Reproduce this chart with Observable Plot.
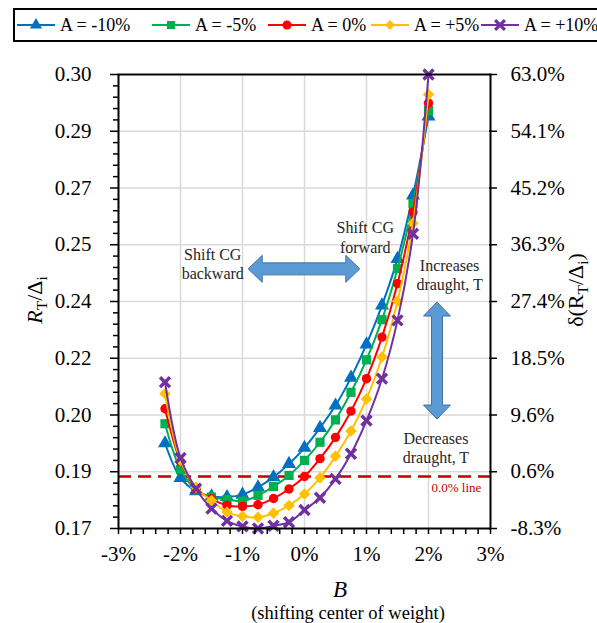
<!DOCTYPE html>
<html><head><meta charset="utf-8">
<script src="https://cdn.jsdelivr.net/npm/d3@7"></script>
<script src="https://cdn.jsdelivr.net/npm/@observablehq/plot@0.6"></script>
<style>
body{margin:0;background:#fff;}
#wrap{width:597px;height:623px;position:relative;overflow:hidden;background:#fff;}
#wrap svg{display:block;}
</style></head><body><div id="wrap"></div>
<script>
// ---------- data ----------
const B = [-2.25,-2,-1.75,-1.5,-1.25,-1,-0.75,-0.5,-0.25,0,0.25,0.5,0.75,1,1.25,1.5,1.75,2];
const seriesNames = ["A = -10%","A = -5%","A = 0%","A = +5%","A = +10%"];
const aMinus10 = [0.1944,0.1845,0.1807,0.1792,0.1790,0.1797,0.1818,0.1847,0.1885,0.1931,0.1988,0.2052,0.2132,0.2227,0.2339,0.2472,0.2654,0.2880];
const aMinus5  = [0.2000,0.1869,0.1811,0.1790,0.1783,0.1778,0.1795,0.1820,0.1852,0.1895,0.1947,0.2011,0.2090,0.2183,0.2298,0.2444,0.2630,0.2897];
const aZero    = [0.2043,0.1892,0.1814,0.1785,0.1766,0.1763,0.1768,0.1786,0.1813,0.1849,0.1900,0.1961,0.2036,0.2129,0.2248,0.2401,0.2606,0.2918];
const aPlus5   = [0.2086,0.1895,0.1818,0.1780,0.1747,0.1735,0.1732,0.1744,0.1766,0.1799,0.1845,0.1907,0.1979,0.2071,0.2191,0.2351,0.2574,0.2943];
const aPlus10  = [0.2119,0.1902,0.1814,0.1757,0.1722,0.1706,0.1700,0.1708,0.1718,0.1753,0.1788,0.1842,0.1914,0.2009,0.2129,0.2296,0.2544,0.3000];
const seriesValues = [aMinus10, aMinus5, aZero, aPlus5, aPlus10];
const zeroLine = 0.1849;

const xTicks = [-3,-2,-1,0,1,2,3];
const xLabels = ["-3%","-2%","-1%","0%","1%","2%","3%"];
const yTicks = [0.17,0.18625,0.2025,0.21875,0.235,0.25125,0.2675,0.28375,0.30];
const leftLabels = ["0.17","0.19","0.20","0.22","0.24","0.25","0.27","0.29","0.30"];
const rightLabels = ["-8.3%","0.6%","9.6%","18.5%","27.4%","36.3%","45.2%","54.1%","63.0%"];

// ---------- styles ----------
const FONT = '"Liberation Serif","Times New Roman",serif';
const colors = ["#0070C0","#00B050","#FF0000","#FFC000","#7030A0"];
const symbols = ["triangle","square","circle","diamond2","times"];

const rows = [];
seriesValues.forEach((vals, s) => vals.forEach((v, i) => rows.push({B: B[i], v, s: seriesNames[s]})));

const yMinor = [];
for (let i = 0; i < yTicks.length - 1; i++) for (let j = 1; j < 5; j++) yMinor.push(yTicks[i] + (yTicks[i+1]-yTicks[i]) * j / 5);
const xMinor = d3.range(-30, 31, 2).map(d => d / 10);

const wrap = document.getElementById("wrap");

// ---------- legend ----------
const leg = d3.select(wrap).append("svg").attr("width", 597).attr("height", 45);
leg.append("rect").attr("x", 14).attr("y", 9).attr("width", 600).attr("height", 32)
  .attr("fill", "white").attr("stroke", "black").attr("stroke-width", 2);
const legX = [17, 152, 268, 371, 481];
const d3sym = [d3.symbolTriangle, d3.symbolSquare, d3.symbolCircle, d3.symbolDiamond2 || d3.symbolSquare, d3.symbolTimes || d3.symbolCross];
seriesNames.forEach((name, s) => {
  const g = leg.append("g").attr("transform", `translate(${legX[s]},25)`);
  g.append("line").attr("x1", 0).attr("x2", 38).attr("stroke", colors[s]).attr("stroke-width", 2);
  const p = g.append("path").attr("d", d3.symbol(d3sym[s], 64)()).attr("transform", "translate(19,0)" + (s === 3 && !d3.symbolDiamond2 ? " rotate(45)" : ""));
  if (s === 4) p.attr("fill", "none").attr("stroke", colors[s]).attr("stroke-width", 3.2);
  else p.attr("fill", colors[s]);
  g.append("text").attr("x", 43).attr("y", 0).attr("dy", "0.33em").attr("font-family", FONT)
    .attr("font-size", 18).attr("fill", "black").text(name);
});

// ---------- plot ----------
const seriesMarks = [];
seriesNames.forEach((name, s) => {
  const data = rows.filter(r => r.s === name);
  seriesMarks.push(Plot.line(data, {x: "B", y: "v", stroke: colors[s], strokeWidth: 2, curve: "catmull-rom"}));
  if (symbols[s] === "times")
    seriesMarks.push(Plot.dot(data, {x: "B", y: "v", symbol: "times", r: 4.6, stroke: colors[s], strokeWidth: 3.4, fill: "none"}));
  else
    seriesMarks.push(Plot.dot(data, {x: "B", y: "v", symbol: symbols[s], r: symbols[s] === "circle" ? 4.7 : 5.2, fill: colors[s], stroke: "none"}));
});

const plot = Plot.plot({
  width: 597, height: 578,
  marginTop: 29, marginBottom: 95, marginLeft: 118, marginRight: 107,
  x: {domain: [-3, 3]},
  y: {domain: [0.17, 0.30]},
  style: {fontFamily: FONT, fontSize: "21px", background: "white", color: "black", overflow: "visible"},
  marks: [
    Plot.gridX({ticks: [-2,-1,0,1,2], stroke: "#d9d9d9", strokeOpacity: 1, strokeWidth: 1.5}),
    Plot.gridY({ticks: yTicks.slice(1, -1), stroke: "#d9d9d9", strokeOpacity: 1, strokeWidth: 1.5}),
    Plot.ruleY([zeroLine], {stroke: "#C00000", strokeWidth: 2.5, strokeDasharray: "13,7"}),
    ...seriesMarks,
    Plot.frame({stroke: "black", strokeWidth: 2}),
    // left axis
    Plot.axisY({anchor: "left", ticks: yMinor, tickSize: 5, tickFormat: () => "", strokeWidth: 1.5, label: null}),
    Plot.axisY({anchor: "left", ticks: yTicks, tickSize: 8, tickFormat: () => "", strokeWidth: 1.5, label: null}),
    Plot.axisY({anchor: "left", ticks: yTicks, tickSize: 0, tickPadding: 27, fontSize: 21, fontFamily: FONT,
      tickFormat: d => leftLabels[yTicks.indexOf(d)], label: null}),
    // right axis
    Plot.axisY({anchor: "right", ticks: yTicks, tickSize: 8, dx: -2, tickFormat: () => "", strokeWidth: 1.5, label: null}),
    Plot.axisY({anchor: "right", ticks: yTicks, tickSize: 0, tickPadding: 20, fontSize: 21, fontFamily: FONT,
      tickFormat: d => rightLabels[yTicks.indexOf(d)], label: null}),
    // bottom axis
    Plot.axisX({anchor: "bottom", ticks: xMinor, tickSize: 6, tickFormat: () => "", strokeWidth: 1.5, label: null}),
    Plot.axisX({anchor: "bottom", ticks: xTicks, tickSize: 0, tickPadding: 18, fontSize: 21, fontFamily: FONT,
      tickFormat: d => xLabels[xTicks.indexOf(d)], label: null}),
    // annotations
    Plot.text([{x: -1.48, y: 0.2459, t: "Shift CG\nbackward"}], {x: "x", y: "y", text: "t", fontSize: 16, lineHeight: 1.2, fill: "#262626", fontFamily: FONT}),
    Plot.text([{x: 0.98, y: 0.2535, t: "Shift CG\nforward"}], {x: "x", y: "y", text: "t", fontSize: 16, lineHeight: 1.2, fill: "#262626", fontFamily: FONT}),
    Plot.text([{x: 2.34, y: 0.2427, t: "Increases\ndraught, T"}], {x: "x", y: "y", text: "t", fontSize: 16, lineHeight: 1.2, fill: "#262626", fontFamily: FONT}),
    Plot.text([{x: 2.12, y: 0.1933, t: "Decreases\ndraught, T"}], {x: "x", y: "y", text: "t", fontSize: 16, lineHeight: 1.2, fill: "#262626", fontFamily: FONT}),
    Plot.text([{x: 2.45, y: 0.1817, t: "0.0% line"}], {x: "x", y: "y", text: "t", fontSize: 13, fill: "#C00000", fontFamily: FONT})
  ]
});
wrap.appendChild(plot);

// ---------- block arrows & titles ----------
const svg = d3.select(plot);
const xs = plot.scale("x"), ys = plot.scale("y");
const arrowFill = "#5B9BD5", arrowStroke = "#41719C";
function hArrow(b1, b2, v, sh, hh, hl) {
  const x1 = xs.apply(b1), x2 = xs.apply(b2), y = ys.apply(v);
  const pts = [[x1,y],[x1+hl,y-hh/2],[x1+hl,y-sh/2],[x2-hl,y-sh/2],[x2-hl,y-hh/2],[x2,y],[x2-hl,y+hh/2],[x2-hl,y+sh/2],[x1+hl,y+sh/2],[x1+hl,y+hh/2]];
  svg.append("path").attr("d", "M" + pts.join("L") + "Z").attr("fill", arrowFill).attr("stroke", arrowStroke).attr("stroke-width", 1);
}
function vArrow(b, v1, v2, sw, hw, hl) {
  const x = xs.apply(b), y1 = ys.apply(v1), y2 = ys.apply(v2);
  const pts = [[x,y1],[x+hw/2,y1+hl],[x+sw/2,y1+hl],[x+sw/2,y2-hl],[x+hw/2,y2-hl],[x,y2],[x-hw/2,y2-hl],[x-sw/2,y2-hl],[x-sw/2,y1+hl],[x-hw/2,y1+hl]];
  svg.append("path").attr("d", "M" + pts.join("L") + "Z").attr("fill", arrowFill).attr("stroke", arrowStroke).attr("stroke-width", 1);
}
hArrow(-0.9, 0.9, 0.2442, 12, 27, 14);
vArrow(2.145, 0.2347, 0.2012, 11, 27, 14);

function title(x, y, rot, parts, size) {
  const t = svg.append("text").attr("transform", `translate(${x},${y}) rotate(${rot})`)
    .attr("text-anchor", "middle").attr("font-family", FONT).attr("font-size", size).attr("fill", "black");
  parts.forEach(([txt, kind]) => {
    const sp = t.append("tspan").text(txt);
    if (kind === "i") sp.attr("font-style", "italic");
    if (kind === "sub") sp.attr("font-size", size * 0.7).attr("dy", size * 0.22);
    if (kind === "up") sp.attr("dy", -size * 0.22);
  });
}
title(42, 255, -90, [["R","i"],["T","sub"],["/Δ","up"],["i","sub"]], 22);
title(583, 245, -90, [["δ(R",""],["T","sub"],["/Δ","up"],["i","sub"],[")","up"]], 22);
title(340, 552, 0, [["B","i"]], 23);
title(348, 574, 0, [["(shifting center of weight)",""]], 18.5);
</script></body></html>
